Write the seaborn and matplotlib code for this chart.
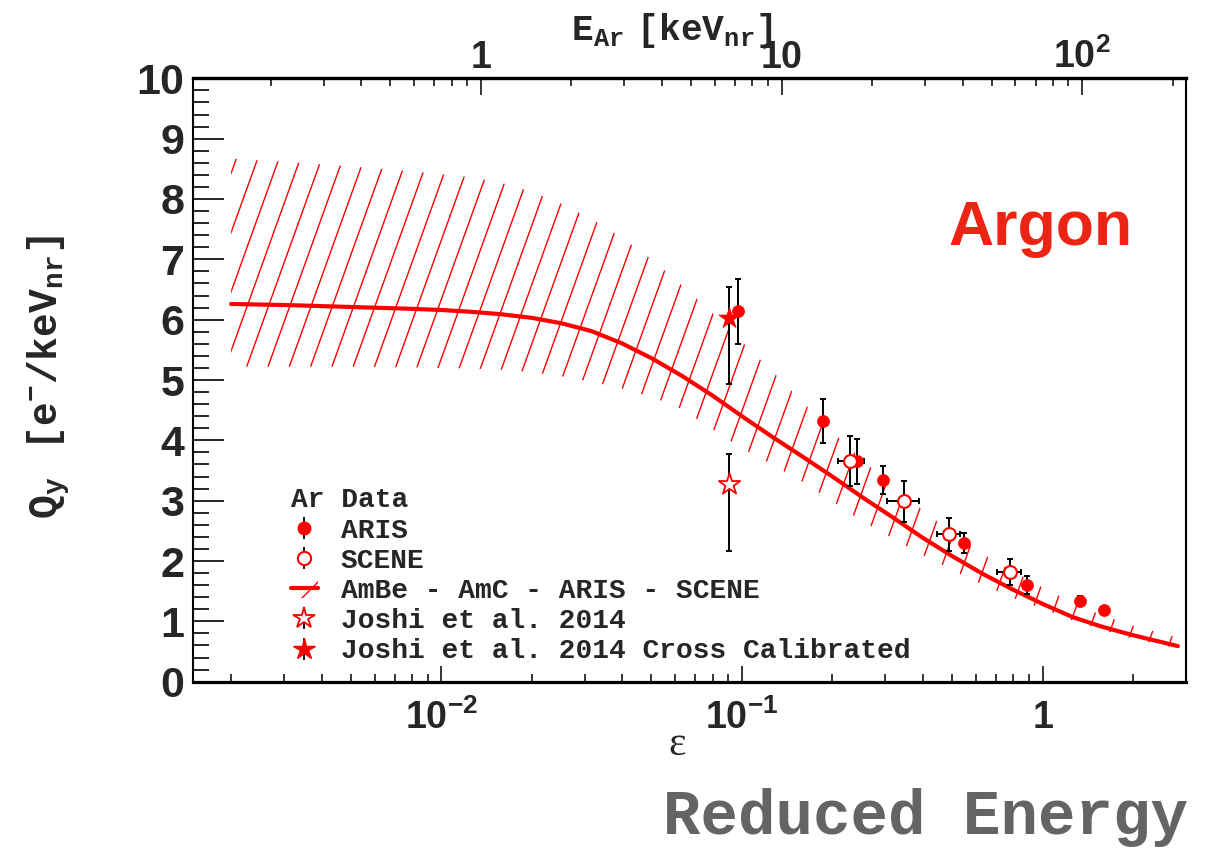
import numpy as np
import matplotlib
matplotlib.use("Agg")
import matplotlib.pyplot as plt
import seaborn as sns
from matplotlib import font_manager
from matplotlib.collections import LineCollection
from matplotlib.lines import Line2D
from matplotlib.patches import Patch
from matplotlib.legend_handler import HandlerTuple
from matplotlib.ticker import LogLocator, MultipleLocator, NullFormatter, FixedLocator

# ---------------------------------------------------------------- data
# Fitted charge yield (central curve) and its uncertainty band vs reduced energy
eps_grid = [0.00200, 0.00316, 0.00501, 0.00794, 0.0100, 0.0126, 0.0158, 0.0200,
            0.0251, 0.0316, 0.0398, 0.0501, 0.0631, 0.0794, 0.100, 0.126, 0.158,
            0.200, 0.251, 0.316, 0.398, 0.501, 0.631, 0.794, 1.00, 1.26, 1.58,
            2.00, 2.82]
qy_fit = [6.26, 6.24, 6.21, 6.18, 6.16, 6.13, 6.09, 6.03, 5.94, 5.81, 5.61, 5.36,
          5.07, 4.75, 4.40, 4.06, 3.74, 3.40, 3.06, 2.73, 2.39, 2.08, 1.79, 1.53,
          1.29, 1.07, 0.91, 0.77, 0.59]
qy_band_hi = [8.67, 8.61, 8.54, 8.46, 8.41, 8.36, 8.27, 8.12, 7.92, 7.67, 7.36, 7.00,
              6.57, 6.12, 5.63, 5.15, 4.65, 4.14, 3.68, 3.23, 2.85, 2.46, 2.12, 1.84,
              1.56, 1.31, 1.10, 0.93, 0.73]
qy_band_lo = [5.22, 5.22, 5.22, 5.21, 5.20, 5.19, 5.17, 5.13, 5.06, 4.97, 4.86, 4.72,
              4.52, 4.19, 3.87, 3.60, 3.32, 2.99, 2.66, 2.38, 2.10, 1.85, 1.61, 1.39,
              1.21, 1.01, 0.86, 0.71, 0.55]

# ARIS measurements
aris_eps = [0.0969, 0.1858, 0.241, 0.294, 0.549, 0.887, 1.335, 1.596]
aris_qy = [6.14, 4.32, 3.65, 3.34, 2.30, 1.60, 1.34, 1.19]
aris_err = [0.54, 0.37, 0.37, 0.23, 0.17, 0.15, 0.08, 0.05]

# SCENE measurements (with reduced-energy spread)
scene_eps = [0.229, 0.345, 0.490, 0.777]
scene_eps_lo = [0.208, 0.303, 0.447, 0.708]
scene_eps_hi = [0.254, 0.387, 0.532, 0.847]
scene_qy = [3.66, 2.99, 2.44, 1.82]
scene_err = [0.41, 0.34, 0.28, 0.21]

# Joshi et al. 2014, raw and cross calibrated
joshi_eps = [0.0909]
joshi_qy = [3.27]
joshi_err_lo = [1.10]
joshi_err_hi = [0.50]
joshi_cc_qy = [6.02]
joshi_cc_err_lo = [1.09]
joshi_cc_err_hi = [0.52]

legend_labels = ["ARIS", "SCENE", "AmBe - AmC - ARIS - SCENE",
                 "Joshi et al. 2014", "Joshi et al. 2014 Cross Calibrated"]

# Lindhard reduced energy for argon: eps = 11.5 * E[keV] * Z^(-7/3)
Z_AR = 18
LINDHARD_K = 11.5 * Z_AR ** (-7.0 / 3.0)


def eps_to_kev(e):
    return np.asarray(e, dtype=float) / LINDHARD_K


def kev_to_eps(E):
    return np.asarray(E, dtype=float) * LINDHARD_K


# ---------------------------------------------------------------- style
sns.set_theme(style="ticks")
_installed = {f.name for f in font_manager.fontManager.ttflist}
NARROW = "Liberation Sans Narrow" if "Liberation Sans Narrow" in _installed \
    else "Liberation Sans"
plt.rcParams.update({
    "font.family": ["Liberation Sans", "DejaVu Sans"],
    "font.weight": "bold",
    "mathtext.fontset": "custom",
    "mathtext.sf": f"{NARROW}:bold",
    "mathtext.tt": "Liberation Mono:bold",
    "mathtext.rm": "Liberation Mono:bold",
    "mathtext.bf": "Liberation Mono:bold",
    "hatch.linewidth": 1.0,
    "axes.edgecolor": "black",
})

RED = "#ff0000"
FIG_W, FIG_H = 12.06, 8.51
fig = plt.figure(figsize=(FIG_W, FIG_H), dpi=100)
ax_rect = [0.15978, 0.19894, 0.82363, 0.70905]
ax = fig.add_axes(ax_rect)

# ---------------------------------------------------------------- band (hatched)
band = ax.fill_between(eps_grid, qy_band_lo, qy_band_hi, facecolor="none",
                       edgecolor="none", linewidth=0, zorder=1)
W_px = ax_rect[2] * FIG_W * 100
H_px = ax_rect[3] * FIG_H * 100
slope = 2.78          # steepness of hatch lines (pixel units)
spacing = 21.3        # horizontal spacing between hatch lines (pixels)
dx_top = H_px / slope
starts = np.arange(4.6 - np.ceil(dx_top / spacing) * spacing, W_px + spacing, spacing)
segs = [[(x0 / W_px, 0.0), ((x0 + dx_top) / W_px, 1.0)] for x0 in starts]
hatch = LineCollection(segs, colors=RED, linewidths=1.0, transform=ax.transAxes,
                       zorder=2)
ax.add_collection(hatch, autolim=False)
hatch.set_clip_path(band.get_paths()[0], ax.transData)

# central curve
sns.lineplot(x=eps_grid, y=qy_fit, color=RED, linewidth=3.0, ax=ax, zorder=3,
             sort=False)

# ---------------------------------------------------------------- data points
eb_kw = dict(fmt="none", ecolor="black", elinewidth=1.4, capsize=2.2,
             capthick=1.4, zorder=4)
ax.errorbar(joshi_eps, joshi_qy, yerr=[joshi_err_lo, joshi_err_hi], **eb_kw)
ax.errorbar(joshi_eps, joshi_cc_qy, yerr=[joshi_cc_err_lo, joshi_cc_err_hi], **eb_kw)
ax.errorbar(aris_eps, aris_qy, yerr=aris_err, **eb_kw)
sc_xerr = [np.subtract(scene_eps, scene_eps_lo), np.subtract(scene_eps_hi, scene_eps)]
ax.errorbar(scene_eps, scene_qy, yerr=scene_err, xerr=sc_xerr, **eb_kw)

sns.scatterplot(x=aris_eps, y=aris_qy, marker="o", s=75, color=RED,
                edgecolor=RED, linewidth=0.5, ax=ax, zorder=5)
sns.scatterplot(x=scene_eps, y=scene_qy, marker="o", s=85, color="white",
                edgecolor=RED, linewidth=1.5, ax=ax, zorder=5)
sns.scatterplot(x=joshi_eps, y=joshi_qy, marker="*", s=260, color="white",
                edgecolor=RED, linewidth=1.3, ax=ax, zorder=5)
sns.scatterplot(x=joshi_eps, y=joshi_cc_qy, marker="*", s=260, color=RED,
                edgecolor=RED, linewidth=0.5, ax=ax, zorder=5)

# ---------------------------------------------------------------- axes
ax.set_xscale("log")
ax.set_xlim(1.49e-3, 3.0)
ax.set_ylim(0, 10)

ax.xaxis.set_major_locator(FixedLocator([1e-2, 1e-1, 1.0]))
ax.set_xticklabels([r"$\mathsf{10^{-2}}$", r"$\mathsf{10^{-1}}$", r"$\mathsf{1}$"])
ax.xaxis.set_minor_locator(LogLocator(base=10, subs=np.arange(2, 10), numticks=20))
ax.xaxis.set_minor_formatter(NullFormatter())
ax.set_yticks(range(0, 11))
ax.set_yticklabels([str(v) for v in range(0, 11)])
ax.yaxis.set_minor_locator(MultipleLocator(0.2))

ax.tick_params(axis="x", which="major", direction="in", length=11.5, width=1.3,
               top=False, bottom=True, pad=13, labelsize=27)
ax.tick_params(axis="x", which="minor", direction="in", length=5.8, width=1.3,
               top=False, bottom=True)
ax.tick_params(axis="y", which="major", direction="in", length=22, width=1.4,
               left=True, right=False, pad=6, labelsize=31)
ax.tick_params(axis="y", which="minor", direction="in", length=11.5, width=1.4,
               left=True, right=False)
for lab in ax.get_yticklabels():
    lab.set_fontweight("bold")

ax.spines["bottom"].set_linewidth(2.3)
ax.spines["top"].set_linewidth(2.3)
ax.spines["left"].set_linewidth(1.5)
ax.spines["right"].set_linewidth(1.5)

# nuclear-recoil energy on the top axis
secax = ax.secondary_xaxis("top", functions=(eps_to_kev, kev_to_eps))
secax.xaxis.set_major_locator(FixedLocator([1.0, 10.0, 100.0]))
secax.set_xticklabels([r"$\mathsf{1}$", r"$\mathsf{10}$", r"$\mathsf{10^{2}}$"])
secax.xaxis.set_minor_locator(LogLocator(base=10, subs=np.arange(2, 10), numticks=20))
secax.xaxis.set_minor_formatter(NullFormatter())
secax.tick_params(axis="x", which="major", direction="in", length=12, width=1.3,
                  pad=2, labelsize=27)
secax.tick_params(axis="x", which="minor", direction="in", length=5.8, width=1.3)
secax.spines["top"].set_linewidth(2.3)
secax.set_xlabel(r"$\mathtt{E_{Ar}\ [keV_{nr}]}$", fontsize=26)
secax.xaxis.set_label_coords(0.4825, 1.080, transform=ax.transAxes)
secax.xaxis.label.set_va("center")

ax.set_xlabel("ε", fontsize=30, family="Liberation Serif", fontweight="normal")
ax.xaxis.set_label_coords(0.4876, -0.105)
ax.xaxis.label.set_va("center")

ax.set_ylabel(r"$\mathtt{Q_{y}\ \ [e^{-}/keV_{nr}]}$", fontsize=28.5)
ax.yaxis.set_label_coords(-0.1437, 0.505)
ax.yaxis.label.set_va("center")

# ---------------------------------------------------------------- legend
bar = dict(marker="|", color="black", markersize=16, markeredgewidth=1.3,
           linestyle="none")
h_aris = (Line2D([], [], **bar),
          Line2D([], [], marker="o", color=RED, markersize=9, linestyle="none"))
h_scene = (Line2D([], [], **bar),
           Line2D([], [], marker="o", markerfacecolor="white", markeredgecolor=RED,
                  markeredgewidth=1.5, markersize=9.5, linestyle="none"))
h_band = (Patch(facecolor="none", edgecolor=RED, hatch="/", linewidth=0),
          Line2D([], [], color=RED, linewidth=3))
h_joshi = (Line2D([], [], **bar),
           Line2D([], [], marker="*", markerfacecolor="white", markeredgecolor=RED,
                  markeredgewidth=1.3, markersize=16, linestyle="none"))
h_joshi_cc = (Line2D([], [], **bar),
              Line2D([], [], marker="*", color=RED, markersize=16, linestyle="none"))

leg = ax.legend([h_aris, h_scene, h_band, h_joshi, h_joshi_cc], legend_labels,
                handler_map={tuple: HandlerTuple(ndivide=1)},
                title="Ar Data", alignment="left", frameon=False,
                loc="upper left", bbox_to_anchor=(0.0985, 0.322),
                prop={"family": "Liberation Mono", "weight": "bold", "size": 20.1},
                title_fontproperties={"family": "Liberation Mono", "weight": "bold",
                                      "size": 20.1},
                handlelength=1.0, handletextpad=0.8, labelspacing=0.15,
                borderpad=0.0, borderaxespad=0.0)

# ---------------------------------------------------------------- annotations
fig.text(1040 / 1206, 1 - 245 / 851, "Argon", color="#eb2414", fontsize=45,
         fontweight="bold", family="Liberation Sans", ha="center", va="baseline")
fig.text(1188 / 1206, 1 - 834 / 851, "Reduced Energy", color="#646464", fontsize=45,
         fontweight="bold", family="Liberation Mono", ha="right", va="baseline")

fig.savefig("out.png", dpi=100)
